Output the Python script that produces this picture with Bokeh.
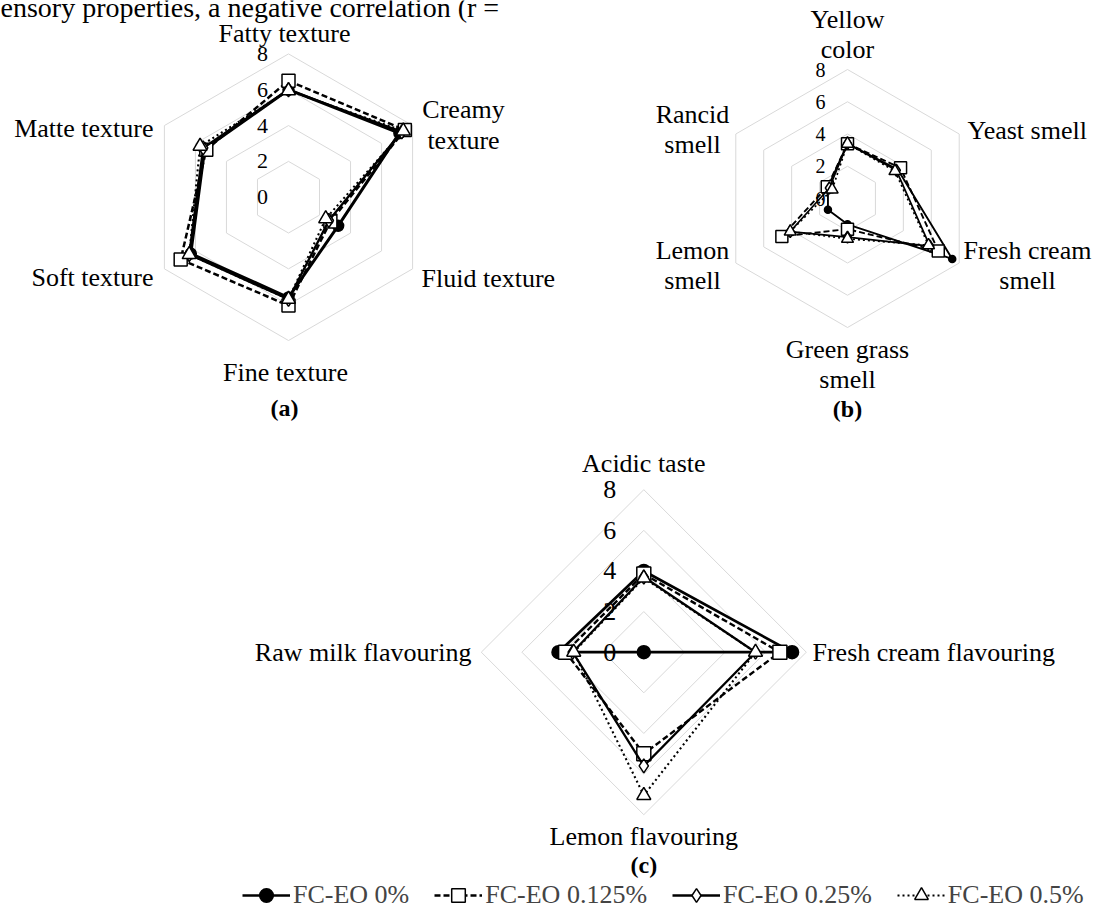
import numpy as np
from bokeh.plotting import figure
from bokeh.models import Range1d, Legend, LegendItem, Label
from bokeh.embed import file_html
from bokeh.resources import INLINE

# ---------------- data ----------------
series_names = ["FC-EO 0%", "FC-EO 0.125%", "FC-EO 0.25%", "FC-EO 0.5%"]
scale_ticks = [0, 2, 4, 6, 8]

# (a) texture attributes
texture_labels = ["Fatty texture", "Creamy\ntexture", "Fluid texture",
                  "Fine texture", "Soft texture", "Matte texture"]
texture_0 = [6.0, 7.15, 3.2, 5.6, 6.3, 5.4]
texture_0125 = [6.5, 7.5, 2.7, 6.05, 6.95, 5.3]
texture_025 = [6.0, 7.3, 2.6, 5.7, 6.4, 5.5]
texture_05 = [5.95, 7.4, 2.4, 5.7, 6.4, 5.7]

# (b) colour and smell attributes
smell_labels = ["Yellow\ncolor", "Yeast smell", "Fresh cream\nsmell",
                "Green grass\nsmell", "Lemon\nsmell", "Rancid\nsmell"]
smell_0 = [3.4, 3.6, 7.5, 1.6, 1.4, 1.4]
smell_0125 = [3.4, 3.8, 6.5, 1.9, 4.7, 1.45]
smell_025 = [3.4, 3.5, 5.9, 2.4, 4.1, 1.3]
smell_05 = [3.4, 3.4, 5.8, 2.5, 4.1, 1.1]

# (c) taste and flavour attributes
taste_labels = ["Acidic taste", "Fresh cream flavouring",
                "Lemon flavouring", "Raw milk flavouring"]
taste_0 = [4.0, 7.3, 0.0, 4.2]
taste_0125 = [3.85, 6.7, 5.0, 3.85]
taste_025 = [3.7, 5.5, 5.6, 3.5]
taste_05 = [3.65, 5.5, 7.05, 3.45]

panel_tags = ["(a)", "(b)", "(c)"]
caption_fragment = "ensory properties, a negative correlation (r ="

# ---------------- page geometry ----------------
FONT = "Liberation Serif"
W, H = 1099, 912
SCALE_MAX = 8
GRID_COLOR = "#d9d9d9"

# centre of each radar (page px) and radius of the outer ring (px)
panels = {
    "a": dict(cx=288.0, cy=196.7, r=143.3),
    "b": dict(cx=847.0, cy=198.0, r=129.0),
    "c": dict(cx=643.3, cy=651.7, r=162.5),
}


def unit(key):
    return panels[key]["r"] / SCALE_MAX


def ranges(key):
    g = panels[key]
    u = unit(key)
    return (Range1d(-g["cx"] / u, (W - g["cx"]) / u),
            Range1d(-(H - g["cy"]) / u, g["cy"] / u))


xa, ya = ranges("a")
xb, yb = ranges("b")
xc, yc = ranges("c")

p = figure(width=W, height=H, x_range=xa, y_range=ya,
           x_axis_type=None, y_axis_type=None,
           toolbar_location=None, output_backend="svg",
           min_border=0, outline_line_color=None,
           background_fill_color="white", border_fill_color="white")
p.extra_x_ranges = {"b": xb, "c": xc}
p.extra_y_ranges = {"b": yb, "c": yc}


def names(key):
    if key == "a":
        return {}
    return dict(x_range_name=key, y_range_name=key)


def put_text(key, x, y, txt, size, align="center", baseline="middle",
             style="normal"):
    p.add_layout(Label(x=x, y=y, text=txt, text_font=FONT,
                       text_font_size=f"{size}px", text_font_style=style,
                       text_align=align, text_baseline=baseline,
                       text_line_height=1.05,
                       text_color="black", **names(key)))


def label(key, dx, dy, txt, size, align="center", baseline="middle",
          style="normal"):
    """Text at a pixel offset (dx right, dy down) from a radar centre."""
    u = unit(key)
    put_text(key, dx / u, -dy / u, txt, size, align, baseline, style)


styles = [
    dict(marker="circle", fill="black", dash="solid"),
    dict(marker="square", fill="white", dash="6 3"),
    dict(marker="diamond", fill="white", dash="solid"),
    dict(marker="triangle", fill="white", dash="2 3"),
]


def radar(key, n, series, sizes, widths, tick_dx, tick_size):
    ang = np.pi / 2 - 2 * np.pi * np.arange(n) / n
    cos, sin = np.cos(ang), np.sin(ang)
    for t in scale_ticks[1:]:
        p.line(np.append(t * cos, t * cos[0]), np.append(t * sin, t * sin[0]),
               line_color=GRID_COLOR, line_width=1, **names(key))
    u = unit(key)
    for t in scale_ticks:
        put_text(key, tick_dx / u, t, str(t), tick_size)
    out = []
    for vals, st, sz, lw in zip(series, styles, sizes, widths):
        v = np.asarray(vals, dtype=float)
        x, y = v * cos, v * sin
        lr = p.line(np.append(x, x[0]), np.append(y, y[0]), line_color="black",
                    line_width=lw, line_dash=st["dash"], **names(key))
        sr = p.scatter(x, y, marker=st["marker"], size=sz,
                       fill_color=st["fill"], line_color="black",
                       line_width=1.5, **names(key))
        out.append([lr, sr])
    return out


# ---- (a) texture ----
radar("a", 6, [texture_0, texture_0125, texture_025, texture_05],
      sizes=[11, 13, 14, 14], widths=[3.0, 2.5, 2.3, 2.1],
      tick_dx=-26, tick_size=22)
label("a", -4, -164, texture_labels[0], 26)
label("a", 175, -72, texture_labels[1], 26)
label("a", 133, 81, texture_labels[2], 26, align="left")
label("a", -3, 175, texture_labels[3], 26)
label("a", -135, 80, texture_labels[4], 26, align="right")
label("a", -135, -69, texture_labels[5], 26, align="right")
label("a", -4, 211, panel_tags[0], 24, style="bold")
label("a", -288, 7 - 196.7, caption_fragment, 28, align="left",
      baseline="alphabetic")

# ---- (b) colour and smell ----
radar("b", 6, [smell_0, smell_0125, smell_025, smell_05],
      sizes=[7, 12, 12, 12], widths=[1.9, 1.9, 1.7, 1.7],
      tick_dx=-27, tick_size=20)
label("b", 0, -164, smell_labels[0], 26)
label("b", 120, -68, smell_labels[1], 26, align="left")
label("b", 180, 67, smell_labels[2], 26)
label("b", 0, 166, smell_labels[3], 26)
label("b", -155, 67, smell_labels[4], 26)
label("b", -155, -69, smell_labels[5], 26)
label("b", 0, 210, panel_tags[1], 24, style="bold")

# ---- (c) taste and flavour ----
c_renderers = radar("c", 4, [taste_0, taste_0125, taste_025, taste_05],
                    sizes=[13, 14, 14, 14], widths=[2.7, 2.4, 2.3, 2.1],
                    tick_dx=-34, tick_size=26)
label("c", 0, -188.7, taste_labels[0], 26)
label("c", 168.7, 0, taste_labels[1], 26, align="left")
label("c", 0, 184.3, taste_labels[2], 26)
label("c", -172.3, 0, taste_labels[3], 26, align="right")
label("c", 0, 212.3, panel_tags[2], 24, style="bold")

legend = Legend(
    items=[LegendItem(label=nm, renderers=rs)
           for nm, rs in zip(series_names, c_renderers)],
    location=(242, 0), orientation="horizontal",
    glyph_width=48, glyph_height=34, label_standoff=3, spacing=25,
    padding=0, margin=0, border_line_color=None, background_fill_alpha=0,
    label_text_font=FONT, label_text_font_size="26px",
)
p.add_layout(legend)

open("out.html", "w").write(file_html(p, INLINE))
